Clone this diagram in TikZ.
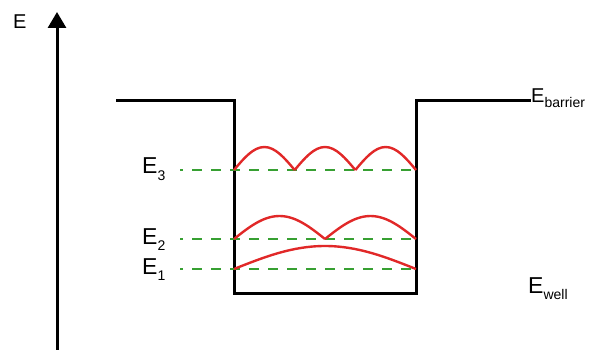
\documentclass[tikz,border=0pt]{standalone}
\usepackage{fontspec}
\setmainfont{Liberation Sans}
\usetikzlibrary{arrows.meta,positioning}

\definecolor{levelgreen}{RGB}{55,160,50}
\definecolor{wavered}{RGB}{225,40,40}

% subscript set in the text font
\newcommand{\lvlsub}[2]{\raisebox{-#1}{\fontsize{14}{14}\selectfont #2}}

\begin{document}
\begin{tikzpicture}[x=1pt,y=-1pt,
    wall/.style={line width=3pt,line join=miter,line cap=rect},
    level/.style={levelgreen,line width=2.6pt,dash pattern=on 10pt off 9pt,dash phase=7pt},
    wave/.style={wavered,line width=2.4pt,line join=round},
    lbl/.style={font=\fontsize{20}{20}\selectfont,inner sep=0pt},
    levellbl/.style={font=\fontsize{23}{23}\selectfont,inner sep=0pt}]
    \useasboundingbox (0,0) rectangle (589,350);

    % energy axis
    \coordinate (axisbot) at (57,352);
    \coordinate (axistop) at (57,12);
    \draw[line width=3pt,-{Triangle[length=16pt,width=18pt]}] (axisbot) -- (axistop);
    \node[lbl,anchor=base west] (elabel) at (13,29) {E};

    % well profile
    \coordinate (barL) at (117,101);
    \coordinate (wallL) at (234,101);
    \coordinate (floorL) at (234,293);
    \coordinate (floorR) at (416,293);
    \coordinate (wallR) at (416,101);
    \coordinate (barR) at (529,101);
    \draw[wall] (barL) -- (wallL) -- (floorL) -- (floorR) -- (wallR) -- (barR);

    \node[lbl,anchor=base west] (ebar) at (531,103) {E\lvlsub{5pt}{barrier}};
    \node[levellbl,anchor=base west] (ewell) at (528,293) {E\lvlsub{6pt}{well}};

    % levels with their wave functions
    \foreach \n/\lev/\base in {1/269/274,2/239/244,3/170/174}{
        \coordinate (lvl\n) at (180,\lev);
        \coordinate (lvlend\n) at (416,\lev);
        \draw[level] (lvl\n) -- (lvlend\n);
        \node[levellbl,anchor=base west] (e\n) at (142,\base) {E\lvlsub{6pt}{\n}};
        \pgfmathsetmacro\w{(416-234)/\n}
        \foreach \k in {1,...,\n}
            \draw[wave] ({234+(\k-1)*\w},\lev) sin ({234+(\k-0.5)*\w},\lev-23) cos ({234+\k*\w},\lev);
    }
\end{tikzpicture}
\end{document}
